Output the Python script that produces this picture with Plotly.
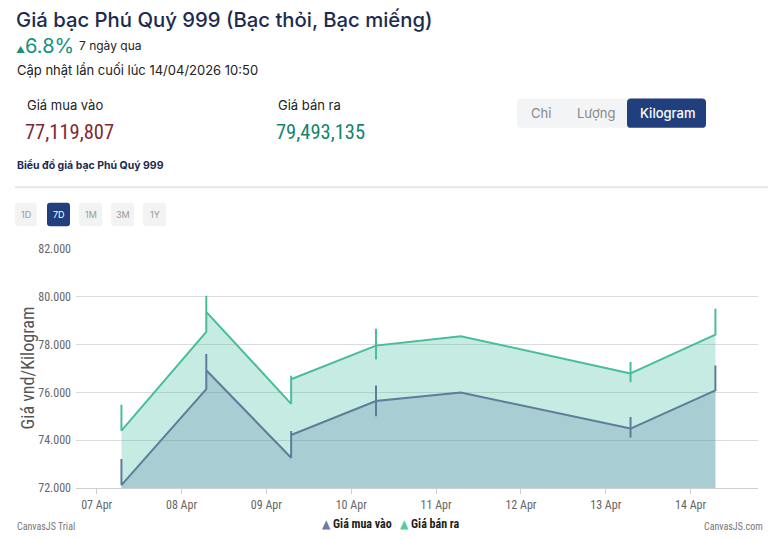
import plotly.graph_objects as go

W, H = 770, 540

# ---------------- data ----------------
sell_times = ["2026-04-07 07:00", "2026-04-07 07:00",
              "2026-04-08 07:00", "2026-04-08 07:00", "2026-04-08 07:00",
              "2026-04-09 07:00", "2026-04-09 07:00", "2026-04-09 07:00",
              "2026-04-10 07:00", "2026-04-10 07:00", "2026-04-10 07:00", "2026-04-10 07:00",
              "2026-04-11 07:00",
              "2026-04-13 07:00", "2026-04-13 07:00", "2026-04-13 07:00", "2026-04-13 07:00",
              "2026-04-14 07:00", "2026-04-14 07:00"]
sell_values = [75480, 74400,
               78520, 80030, 79360,
               75520, 76690, 76550,
               77950, 78650, 77370, 77950,
               78340,
               76790, 77270, 76420, 76790,
               78410, 79493]
buy_times = sell_times
buy_values = [73220, 72130,
              76130, 77600, 76920,
              73270, 74390, 74220,
              75640, 76290, 75000, 75640,
              75990,
              74490, 74970, 74120, 74490,
              76080, 77120]

series_names = ["Giá mua vào", "Giá bán ra"]
y_ticks = [72000, 74000, 76000, 78000, 80000, 82000]
x_ticks = ["2026-04-07", "2026-04-08", "2026-04-09", "2026-04-10",
           "2026-04-11", "2026-04-12", "2026-04-13", "2026-04-14"]

# ---------------- helpers (page pixel -> paper) ----------------
def px(x):
    return x / W

def py(y):
    return 1 - y / H

def rrect(x0, y0, x1, y1, r, fill):
    X0, X1 = px(x0), px(x1)
    Y0, Y1 = py(y0), py(y1)
    rx, ry = r / W, r / H
    path = (f"M {X0+rx},{Y0} L {X1-rx},{Y0} Q {X1},{Y0} {X1},{Y0-ry} "
            f"L {X1},{Y1+ry} Q {X1},{Y1} {X1-rx},{Y1} L {X0+rx},{Y1} "
            f"Q {X0},{Y1} {X0},{Y1+ry} L {X0},{Y0-ry} Q {X0},{Y0} {X0+rx},{Y0} Z")
    return dict(type="path", path=path, xref="paper", yref="paper",
                fillcolor=fill, line=dict(width=0), layer="below")

HFONT = "Inter, Lato, sans-serif"
CFONT = "Liberation Sans Narrow, Roboto Condensed, DejaVu Sans Condensed, Roboto, sans-serif"
NAVY = "#1d2b4f"

def txt(x, y, s, size, color=NAVY, xanchor="left", family=HFONT, weight=None, **kw):
    f = dict(size=size, color=color, family=family)
    if weight:
        f["weight"] = weight
    return dict(x=px(x), y=py(y), xref="paper", yref="paper", text=s,
                showarrow=False, xanchor=xanchor, yanchor="middle",
                font=f, **kw)

fig = go.Figure()

fig.add_trace(go.Scatter(
    x=sell_times, y=sell_values, mode="lines", fill="tozeroy", name=series_names[1],
    line=dict(color="#48bd9b", width=2), fillcolor="rgba(65,188,158,0.30)",
    showlegend=False, hoverinfo="skip"))
fig.add_trace(go.Scatter(
    x=buy_times, y=buy_values, mode="lines", fill="tozeroy", name=series_names[0],
    line=dict(color="#5c7e9a", width=2), fillcolor="rgba(98,135,173,0.30)",
    showlegend=False, hoverinfo="skip"))

plot_l, plot_r, plot_t, plot_b = 76, 758, 248, 494

shapes = [
    dict(type="line", xref="paper", yref="paper", x0=px(15), x1=px(768), y0=py(185), y1=py(185),
         line=dict(color="#e6e6e6", width=2)),
    rrect(517, 94, 706, 124, 4, "#f3f4f6"),
    rrect(627, 94, 706, 124, 4, "#213f7d"),
]
for (a, b, c) in [(15, 37, "#f3f3f3"), (47, 70, "#213f7d"), (79, 102, "#f3f3f3"),
                  (111, 134, "#f3f3f3"), (143, 166, "#f3f3f3")]:
    shapes.append(rrect(a, 201, b, 225, 3, c))

legend_text = (f"<span style='color:#6D78AD'>▲</span> {series_names[0]}   "
               f"<span style='color:#51CDA0'>▲</span> {series_names[1]}")

annotations = [
    txt(14, 13, "Giá bạc Phú Quý 999 (Bạc thỏi, Bạc miếng)", 20.3, weight=500),
    txt(14, 40, "<span style='font-size:9px'>▲</span>6.8%", 20, color="#16917a"),
    txt(77, 40, "7 ngày qua", 12, color="#222"),
    txt(15, 65, "Cập nhật lần cuối lúc 14/04/2026 10:50", 13, color="#222"),
    txt(25, 101, "Giá mua vào", 13, color="#222"),
    txt(23, 128, "77,119,807", 20.5, color="#7c2a33", family=CFONT),
    txt(276, 101, "Giá bán ra", 13, color="#222"),
    txt(274, 128, "79,493,135", 20.5, color="#15846c", family=CFONT),
    txt(541, 109, "Chỉ", 13, color="#888", xanchor="center"),
    txt(596, 109, "Lượng", 13, color="#888", xanchor="center"),
    txt(667, 109, "Kilogram", 13, color="#ffffff", xanchor="center", weight=500),
    txt(15, 163, "<b>Biểu đồ giá bạc Phú Quý 999</b>", 10.5, color=NAVY),
    txt(26, 213, "1D", 9, color="#999", xanchor="center"),
    txt(58.5, 213, "7D", 9, color="#ffffff", xanchor="center"),
    txt(90.5, 213, "1M", 9, color="#999", xanchor="center"),
    txt(122.5, 213, "3M", 9, color="#999", xanchor="center"),
    txt(154.5, 213, "1Y", 9, color="#999", xanchor="center"),
    txt(27, 371, "Giá vnd/Kilogram", 18, color="#555", xanchor="center", family=CFONT, textangle=-90),
    txt(15, 533.5, "CanvasJS Trial", 10, color="#777", family=CFONT),
    txt(765, 533.5, "CanvasJS.com", 10, color="#777", xanchor="right", family=CFONT),
    txt(391, 530.5, "<b>" + legend_text + "</b>", 12, color="#222", xanchor="center", family=CFONT),
]

fig.update_layout(
    width=W, height=H, autosize=False,
    margin=dict(l=0, r=0, t=0, b=0),
    paper_bgcolor="white", plot_bgcolor="white",
    separators=",.",
    shapes=shapes, annotations=annotations,
    showlegend=False,
    xaxis=dict(domain=[px(plot_l), px(plot_r)], type="date",
               range=["2026-04-06 18:09", "2026-04-14 19:03"],
               tickvals=x_ticks, tickformat="%d %b",
               showgrid=False, zeroline=False,
               showline=True, linecolor="#cfcfcf", linewidth=1,
               ticks="outside", ticklen=5, tickcolor="#cfcfcf",
               tickfont=dict(size=12, color="#666", family=CFONT)),
    yaxis=dict(domain=[py(plot_b), py(plot_t)], range=[72000, 82000],
               tickvals=y_ticks, tickformat=",d",
               showgrid=True, gridcolor="#dcdcdc", gridwidth=1, zeroline=False,
               showline=False, ticks="", ticklabelstandoff=4,
               tickfont=dict(size=12, color="#666", family=CFONT)),
)

fig.write_html("out.html", config={"displayModeBar": False},
               post_script="document.body.style.margin='0';document.body.style.overflow='hidden';")
